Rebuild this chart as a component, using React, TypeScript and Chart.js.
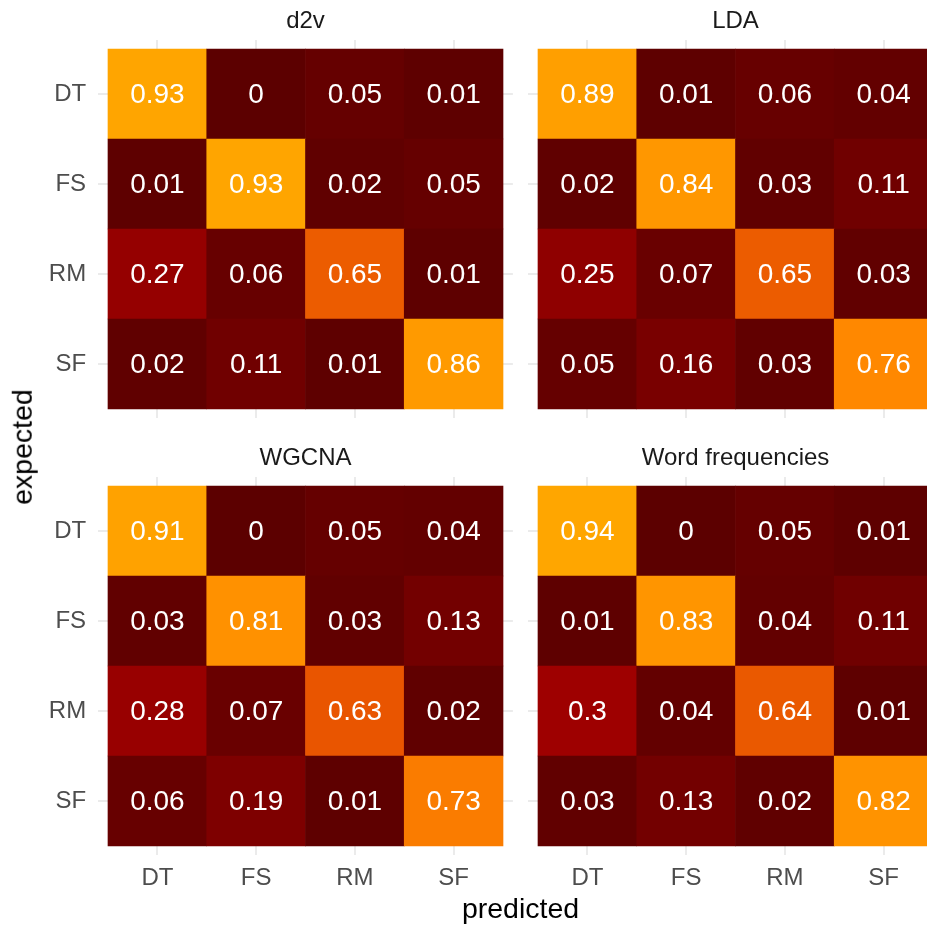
import React, { useEffect, useRef } from 'react';
import { Chart, registerables } from 'chart.js';

Chart.register(...registerables);

// ---------- data ----------
const categories = ['DT', 'FS', 'RM', 'SF'];
const panelTitles = ['d2v', 'LDA', 'WGCNA', 'Word frequencies'];

// rows = expected (DT, FS, RM, SF), columns = predicted (DT, FS, RM, SF)
const d2vValues = [
  [0.93, 0, 0.05, 0.01],
  [0.01, 0.93, 0.02, 0.05],
  [0.27, 0.06, 0.65, 0.01],
  [0.02, 0.11, 0.01, 0.86],
];
const ldaValues = [
  [0.89, 0.01, 0.06, 0.04],
  [0.02, 0.84, 0.03, 0.11],
  [0.25, 0.07, 0.65, 0.03],
  [0.05, 0.16, 0.03, 0.76],
];
const wgcnaValues = [
  [0.91, 0, 0.05, 0.04],
  [0.03, 0.81, 0.03, 0.13],
  [0.28, 0.07, 0.63, 0.02],
  [0.06, 0.19, 0.01, 0.73],
];
const wordFreqValues = [
  [0.94, 0, 0.05, 0.01],
  [0.01, 0.83, 0.04, 0.11],
  [0.3, 0.04, 0.64, 0.01],
  [0.03, 0.13, 0.02, 0.82],
];

// ---------- style ----------
const colorStops: [number, number, number, number][] = [
  [0, 92, 0, 0],
  [0.1, 110, 0, 0],
  [0.2, 128, 0, 0],
  [0.3, 158, 0, 0],
  [0.45, 200, 22, 0],
  [0.6, 228, 75, 0],
  [0.65, 236, 92, 0],
  [0.76, 255, 136, 0],
  [0.85, 255, 153, 0],
  [0.94, 255, 166, 0],
];

function fillFor(v: number): string {
  if (v <= colorStops[0][0]) {
    const s = colorStops[0];
    return `rgb(${s[1]},${s[2]},${s[3]})`;
  }
  for (let i = 1; i < colorStops.length; i++) {
    const a = colorStops[i - 1];
    const b = colorStops[i];
    if (v <= b[0]) {
      const t = (v - a[0]) / (b[0] - a[0]);
      const r = Math.round(a[1] + (b[1] - a[1]) * t);
      const g = Math.round(a[2] + (b[2] - a[2]) * t);
      const bl = Math.round(a[3] + (b[3] - a[3]) * t);
      return `rgb(${r},${g},${bl})`;
    }
  }
  const s = colorStops[colorStops.length - 1];
  return `rgb(${s[1]},${s[2]},${s[3]})`;
}

const FONT = '"Liberation Sans", Arial, Helvetica, sans-serif';
const UX = 98.75;
const UY = 90;

interface PanelProps {
  values: number[][];
  tilesL: number;
  tilesT: number;
  showY: boolean;
  showX: boolean;
}

function Panel({ values, tilesL, tilesT, showY, showX }: PanelProps) {
  const ref = useRef<HTMLCanvasElement>(null);

  const panelL = tilesL - 0.1 * UX;
  const panelT = tilesT - 0.1 * UY;
  const panelW = 4.2 * UX;
  const panelH = 4.2 * UY;
  const xH = showX ? 45 : 0;

  const canvasL = showY ? 0 : Math.floor(panelL);
  const yW = panelL - canvasL;
  const canvasT = Math.floor(panelT - 20);
  const padT = panelT - canvasT;
  const W = Math.ceil(yW + panelW + 20);
  const padR = W - yW - panelW;
  const H = Math.ceil(padT + panelH + xH + 20);
  const padB = H - padT - panelH - xH;

  useEffect(() => {
    const canvas = ref.current;
    if (!canvas) return;

    const points: { x: number; y: [number, number] }[] = [];
    const colors: string[] = [];
    const labels: { x: number; y: number; text: string }[] = [];
    values.forEach((row, r) => {
      row.forEach((v, c) => {
        points.push({ x: c, y: [r - 0.5, r + 0.5] });
        colors.push(fillFor(v));
        labels.push({ x: c, y: r, text: String(v) });
      });
    });

    const valueLabels = {
      id: 'valueLabels',
      afterDatasetsDraw(chart: any) {
        const ctx = chart.ctx;
        const xs = chart.scales.x;
        const ys = chart.scales.y;
        ctx.save();
        ctx.fillStyle = '#ffffff';
        ctx.font = `28px ${FONT}`;
        ctx.textAlign = 'center';
        ctx.textBaseline = 'middle';
        labels.forEach((l) => {
          ctx.fillText(l.text, xs.getPixelForValue(l.x), ys.getPixelForValue(l.y) + 1);
        });
        ctx.restore();
      },
    };

    const chart = new Chart(canvas, {
      type: 'bar',
      data: {
        datasets: [
          {
            data: points as any,
            backgroundColor: colors,
            borderWidth: 0,
            categoryPercentage: 1,
            barPercentage: 1,
            grouped: false,
          } as any,
        ],
      },
      options: {
        responsive: false,
        animation: false,
        events: [],
        layout: { padding: { left: 0, right: padR, top: padT, bottom: padB } },
        plugins: {
          legend: { display: false },
          tooltip: { enabled: false },
          title: { display: false },
        },
        scales: {
          x: {
            type: 'linear',
            min: -0.6,
            max: 3.6,
            offset: false,
            grid: { color: '#ebebeb', lineWidth: 2, drawTicks: false, offset: false },
            border: { display: false },
            ticks: {
              display: showX,
              padding: 9,
              color: '#4d4d4d',
              font: { family: FONT, size: 24 },
              callback: (v: any) => categories[Number(v)] ?? '',
            },
            afterBuildTicks: (s: any) => {
              s.ticks = categories.map((_, i) => ({ value: i }));
            },
            afterFit: (s: any) => {
              s.height = xH;
              s.paddingLeft = 0;
              s.paddingRight = 0;
            },
          },
          y: {
            type: 'linear',
            reverse: true,
            min: -0.6,
            max: 3.6,
            beginAtZero: false,
            grid: { color: '#ebebeb', lineWidth: 2, drawTicks: false },
            border: { display: false },
            ticks: {
              display: showY,
              padding: 12,
              color: '#4d4d4d',
              font: { family: FONT, size: 24 },
              callback: (v: any) => categories[Number(v)] ?? '',
            },
            afterBuildTicks: (s: any) => {
              s.ticks = categories.map((_, i) => ({ value: i }));
            },
            afterFit: (s: any) => {
              s.width = yW;
              s.paddingTop = 0;
              s.paddingBottom = 0;
            },
          },
        },
      } as any,
      plugins: [valueLabels],
    });

    return () => chart.destroy();
  }, [values, tilesL, tilesT, showY, showX]);

  return (
    <canvas
      ref={ref}
      width={W}
      height={H}
      style={{ position: 'absolute', left: canvasL, top: canvasT, width: W, height: H }}
    />
  );
}

const stripStyle: React.CSSProperties = {
  position: 'absolute',
  transform: 'translate(-50%, -50%)',
  fontFamily: FONT,
  fontSize: 24,
  color: '#1a1a1a',
  lineHeight: 1,
  whiteSpace: 'nowrap',
};

export default function App() {
  const topT = 49;
  const botT = 486;
  const leftL = 108;
  const rightL = 538;
  const panels = [
    { values: d2vValues, tilesL: leftL, tilesT: topT, showY: true, showX: false },
    { values: ldaValues, tilesL: rightL, tilesT: topT, showY: false, showX: false },
    { values: wgcnaValues, tilesL: leftL, tilesT: botT, showY: true, showX: true },
    { values: wordFreqValues, tilesL: rightL, tilesT: botT, showY: false, showX: true },
  ];
  return (
    <div
      style={{
        position: 'absolute',
        left: 0,
        top: 0,
        width: 927,
        height: 928,
        overflow: 'hidden',
        background: '#ffffff',
      }}
    >
      {panels.map((p, i) => (
        <Panel key={i} {...p} />
      ))}
      {panels.map((p, i) => (
        <div
          key={'t' + i}
          style={{ ...stripStyle, left: p.tilesL + 2 * UX, top: p.tilesT - 29 }}
        >
          {panelTitles[i]}
        </div>
      ))}
      <div
        style={{
          position: 'absolute',
          left: 22,
          top: 447,
          transform: 'translate(-50%, -50%) rotate(-90deg)',
          fontFamily: FONT,
          fontSize: 28.5,
          color: '#000000',
          lineHeight: 1,
          whiteSpace: 'nowrap',
        }}
      >
        expected
      </div>
      <div
        style={{
          position: 'absolute',
          left: 520.5,
          top: 908,
          transform: 'translate(-50%, -50%)',
          fontFamily: FONT,
          fontSize: 28.5,
          color: '#000000',
          lineHeight: 1,
          whiteSpace: 'nowrap',
        }}
      >
        predicted
      </div>
    </div>
  );
}
